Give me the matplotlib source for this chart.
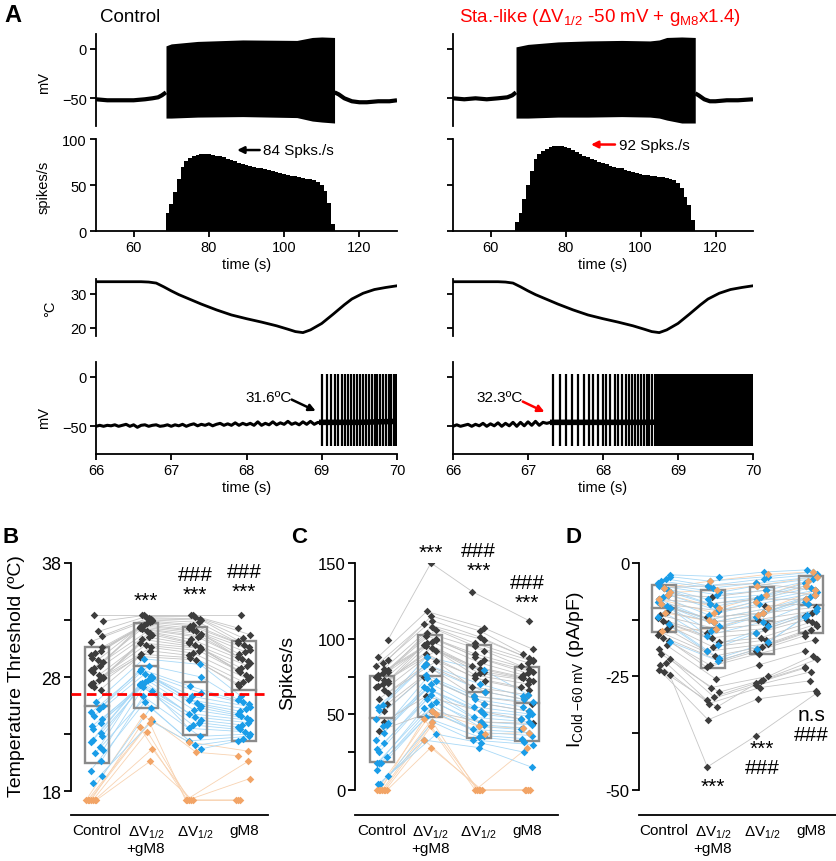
import numpy as np
import matplotlib
matplotlib.use("Agg")
import matplotlib.pyplot as plt
from matplotlib.patches import Rectangle

plt.rcParams["font.family"] = ["Liberation Sans", "DejaVu Sans"]
plt.rcParams["mathtext.fontset"] = "custom"
plt.rcParams["mathtext.rm"] = "Liberation Sans"
plt.rcParams["mathtext.it"] = "Liberation Sans:italic"
plt.rcParams["mathtext.bf"] = "Liberation Sans:bold"
plt.rcParams["axes.linewidth"] = 1.3

# ===========================
# Panel A data
# ===========================
# slow time scale, control
CTRL_PRE_T = [50, 53, 56, 60, 63, 65, 66.5, 67.5, 68.6]
CTRL_PRE_V = [-51, -52, -52, -52, -51, -50, -49, -47, -44]
CTRL_ENV_T = [68.6, 70, 77, 89, 103.4, 107.5, 110, 113.4]
CTRL_ENV_HI = [3, 5, 7.5, 9, 8.5, 11.5, 12, 11.5]
CTRL_ENV_LO = [-70, -70, -69, -68.5, -69.5, -73, -74, -75]
CTRL_POST_T = [113.4, 114.5, 116, 118, 120, 122, 125, 128, 130]
CTRL_POST_V = [-44, -46, -50, -53, -54, -54, -53, -53, -52]

# slow time scale, Sta.-like
STA_PRE_T = [50, 53, 56, 59, 62, 64.5, 65.8, 66.8]
STA_PRE_V = [-50, -51, -50, -51, -50, -49, -47, -44]
STA_ENV_T = [66.8, 70, 78, 86, 95, 102.5, 105, 107, 111, 114.6]
STA_ENV_HI = [2, 4.5, 7, 8, 8.5, 8, 9, 11.5, 12, 11.5]
STA_ENV_LO = [-70, -70, -69, -69, -68.5, -69, -70, -72, -75, -75]
STA_POST_T = [114.6, 115.5, 117, 118.5, 120, 123, 126, 130]
STA_POST_V = [-45, -47, -51, -53, -53, -52, -52, -51]

# firing rate, 1 s bins
CTRL_RATE_T0 = 68.5
CTRL_RATE = [20, 29, 42, 56, 70, 76, 79, 81, 83, 84, 84, 84, 83, 82, 81, 80, 78,
             77, 76, 74, 73, 72, 71, 70, 69, 68, 67, 66, 65, 64, 63, 62, 61, 60,
             60, 59, 58, 57, 56, 55, 53, 50, 43, 30, 8]
STA_RATE_T0 = 66.5
STA_RATE = [10, 20, 35, 50, 65, 78, 84, 87, 89, 91, 92, 92, 92, 91, 90, 88, 86,
            84, 82, 80, 78, 77, 75, 74, 73, 71, 70, 69, 68, 66, 65, 64, 63, 62,
            61, 61, 60, 60, 59, 59, 58, 57, 55, 52, 47, 37, 28, 12]

# bath temperature
TEMP_T = [50, 62, 64, 66, 68, 70, 72, 75, 78, 82, 86, 90, 94, 98, 101, 103,
          105, 107, 110, 113, 116, 118, 121, 124, 127, 130]
TEMP_C = [33.6, 33.6, 33.5, 33.2, 32.1, 30.9, 29.8, 28.4, 27.0, 25.3, 23.8,
          22.7, 21.7, 20.6, 19.6, 18.9, 18.6, 19.4, 21.3, 24.0, 26.8, 28.5,
          30.2, 31.3, 31.9, 32.4]

# fast time scale, control
CTRL_BASE_V = [-50, -49, -50, -49, -49.5, -48.5, -50, -49, -48, -50, -48.5, -51,
               -49, -48.5, -50, -49, -48.5, -50, -49.5, -48.5, -50, -48.5, -49.5,
               -48, -50, -48.5, -47.5, -49.5, -48, -49, -47.5, -49.5, -48, -47,
               -49, -47.5, -49, -46.5, -49, -47, -48.5, -47, -49, -45.5, -49, -47,
               -48.5, -45.5, -48.5, -46.5, -48, -45, -48, -46.5, -48.5, -45.5, -48,
               -45, -48, -46, -47]
CTRL_BASE_RANGE = (66.0, 69.0)
CTRL_SPIKES = [69.00, 69.07, 69.12, 69.17, 69.22, 69.27, 69.31, 69.35, 69.39,
               69.43, 69.47, 69.51, 69.55, 69.59, 69.63, 69.67, 69.71, 69.74,
               69.78, 69.82, 69.85, 69.89, 69.92, 69.96, 69.99]
CTRL_TRAIN_T = [69.0, 69.5, 70.0]
CTRL_TRAIN_V = [-46, -46, -45]

# fast time scale, Sta.-like
STA_BASE_V = [-50, -48.5, -50, -49, -48, -50, -48, -49.5, -47, -50, -47.5, -49.5,
              -46.5, -50, -47, -49.5, -46, -50, -46, -49.5, -45.5, -49, -45, -49,
              -46, -47, -46]
STA_BASE_RANGE = (66.0, 67.3)
STA_SPIKES = [67.33, 67.42, 67.51, 67.58, 67.66, 67.74, 67.81, 67.86, 67.93,
              68.00, 68.04, 68.10, 68.16, 68.20, 68.25, 68.30, 68.34, 68.39,
              68.42, 68.47, 68.50, 68.54, 68.58, 68.61, 68.65]
STA_DENSE_T = [68.68, 70.0]
STA_TRAIN_T = [67.33, 68.5, 70.0]
STA_TRAIN_V = [-46, -46, -45]
SPIKE_PEAK = 3
SPIKE_TROUGH = -70

# ===========================
# Panels B-D data (per cell: Control, dV1/2+gM8, dV1/2, gM8)
# ===========================
CATEGORIES = ["Control", "ΔV$_{1/2}$\n+gM8", "ΔV$_{1/2}$", "gM8"]

B_GRAY = [
    [33.4, 32.9, 32.0, 31.6, 31.1, 30.6, 30.3, 30.1, 29.9, 29.7, 29.5, 29.3, 29.0,
     28.8, 28.6, 28.4, 28.2, 28.0, 27.9, 27.7, 27.5, 27.4, 27.3, 27.1, 26.9],
    [33.4, 33.4, 33.3, 33.2, 33.1, 33.0, 32.9, 32.8, 32.7, 32.6, 32.5, 32.4, 32.3,
     32.2, 32.0, 31.9, 31.7, 31.5, 31.3, 31.0, 30.8, 30.6, 30.3, 30.0, 29.8],
    [33.4, 33.4, 33.3, 33.1, 33.0, 32.8, 32.6, 32.5, 32.3, 32.1, 32.0, 31.8, 31.6,
     31.5, 31.3, 31.1, 31.0, 30.8, 30.6, 30.5, 30.3, 30.1, 29.9, 29.7, 29.5],
    [33.4, 32.3, 31.7, 31.4, 31.2, 31.0, 30.8, 30.6, 30.4, 30.2, 30.0, 29.8, 29.6,
     29.4, 29.2, 29.0, 28.8, 28.6, 28.4, 28.2, 28.0, 27.8, 27.6, 27.4, 27.2],
]
B_BLUE = [
    [25.8, 25.5, 25.2, 24.9, 24.6, 24.3, 24.0, 23.7, 23.4, 23.1, 22.8, 22.5, 22.3,
     21.9, 21.6, 21.3, 20.6, 19.8, 19.3, 18.7],
    [29.6, 29.0, 28.7, 28.5, 28.3, 28.1, 28.0, 27.9, 27.8, 27.7, 27.6, 27.5, 27.4,
     27.3, 27.1, 26.8, 26.3, 25.8, 25.3, 24.1],
    [29.1, 28.0, 27.2, 26.6, 26.3, 26.0, 25.7, 25.5, 25.3, 25.1, 24.8, 24.5, 24.2,
     24.0, 23.8, 23.5, 22.8, 22.4, 22.0, 21.7],
    [26.3, 26.0, 25.8, 25.6, 25.4, 25.2, 25.0, 24.8, 24.6, 24.4, 24.2, 24.0, 23.8,
     23.6, 23.4, 23.2, 23.0, 22.8, 22.6, 22.4],
]
B_ORANGE = [
    [17.2, 17.2, 17.2, 17.2, 17.2, 17.2, 17.2],
    [24.6, 24.3, 24.0, 23.6, 23.2, 21.7, 20.6],
    [22.3, 21.4, 17.2, 17.2, 17.2, 17.2, 17.2],
    [21.5, 21.1, 20.6, 19.1, 17.2, 17.2, 17.2],
]
B_BOX_LO = [20.5, 25.3, 22.9, 22.4]
B_BOX_HI = [30.6, 32.7, 32.4, 31.2]
B_MEDIAN = [25.5, 29.0, 27.6, 26.9]
B_THRESHOLD = 26.5

C_GRAY = [
    [99, 88, 86, 84, 82, 80, 79, 78, 77, 76, 75, 74, 73, 72, 71, 70, 69, 68, 66,
     64, 60, 57, 52, 45, 39],
    [150, 118, 115, 112, 110, 108, 106, 104, 102, 100, 99, 98, 97, 96, 95, 94, 92,
     90, 88, 85, 83, 80, 75, 62, 52],
    [131, 107, 105, 101, 99, 97, 95, 92, 90, 88, 86, 84, 82, 80, 78, 77, 76, 74,
     72, 68, 65, 62, 57, 52, 45],
    [112, 93, 90, 87, 86, 85, 84, 82, 80, 78, 77, 76, 75, 74, 73, 72, 70, 68, 66,
     63, 60, 57, 52, 47, 44],
]
C_BLUE = [
    [56, 55, 53, 47, 44, 43, 42, 38, 33, 31, 27, 25, 22, 18, 18, 18, 13, 9, 4, 4],
    [88, 83, 82, 76, 74, 72, 70, 68, 67, 66, 63, 60, 58, 56, 54, 52, 48, 45, 37, 33],
    [79, 70, 65, 62, 60, 57, 55, 52, 50, 48, 45, 43, 42, 40, 38, 36, 35, 33, 31, 28],
    [63, 62, 60, 58, 55, 52, 50, 49, 47, 45, 43, 41, 40, 38, 36, 34, 32, 30, 25, 15],
]
C_ORANGE = [
    [0, 0, 0, 0, 0, 0, 0],
    [52, 50, 47, 45, 42, 33, 28],
    [42, 37, 0, 0, 0, 0, 0],
    [41, 38, 28, 0, 0, 0, 0],
]
C_BOX_LO = [18.5, 48.5, 34.5, 32.5]
C_BOX_HI = [75.5, 102.5, 95.5, 81.5]
C_MEDIAN = [47.5, 75.5, 65.0, 57.5]

D_GRAY = [
    [-5.5, -7.0, -8.0, -9.0, -10.0, -10.8, -11.5, -12.2, -12.8, -13.3, -14.0, -14.5,
     -15.2, -15.8, -16.5, -17.2, -18.2, -19.0, -20.0, -21.2, -22.0, -22.6, -23.5,
     -24.0, -24.7],
    [-5.0, -7.5, -9.0, -10.5, -12.0, -13.0, -14.5, -15.5, -16.5, -17.5, -18.5, -19.5,
     -20.5, -21.5, -22.5, -23.0, -25.6, -27.5, -28.5, -29.5, -30.3, -31.0, -34.6,
     -31.8, -45.0],
    [-4.5, -6.0, -8.0, -9.5, -11.0, -12.5, -13.5, -14.5, -15.5, -16.5, -17.0, -17.8,
     -18.5, -19.0, -19.5, -20.0, -22.5, -25.0, -25.8, -26.5, -27.0, -27.5, -30.0,
     -26.0, -38.1],
    [-6.0, -7.0, -8.0, -9.0, -9.8, -10.5, -11.0, -11.8, -12.5, -13.0, -13.5, -14.0,
     -14.8, -15.5, -16.0, -17.0, -19.5, -20.5, -21.2, -23.2, -24.0, -26.0, -28.2,
     -23.0, -28.6],
]
D_BLUE = [
    [-2.6, -3.0, -3.5, -4.0, -4.5, -5.0, -5.5, -6.0, -6.5, -7.0, -7.5, -8.0, -8.5,
     -9.0, -9.5, -10.0, -11.0, -12.0, -13.5, -17.4],
    [-3.0, -4.0, -5.0, -5.5, -6.5, -7.0, -8.0, -9.0, -9.5, -10.5, -11.5, -12.5,
     -13.0, -14.0, -15.0, -16.0, -18.0, -19.5, -21.0, -21.6],
    [-2.0, -3.0, -3.5, -4.5, -5.0, -6.0, -7.0, -7.5, -8.0, -8.5, -9.0, -10.0, -11.0,
     -11.5, -12.0, -13.0, -14.0, -15.5, -17.5, -19.0],
    [-1.5, -2.0, -2.5, -3.0, -3.5, -4.0, -4.5, -5.0, -5.5, -6.0, -6.5, -7.0, -7.5,
     -8.0, -8.5, -9.0, -10.0, -10.5, -11.5, -12.0],
]
D_ORANGE = [
    [-5.5, -6.5, -7.0, -8.0, -9.0, -11.0, -15.0],
    [-4.0, -6.0, -10.0, -11.0, -12.5, -13.0, -14.5],
    [-2.5, -5.0, -7.0, -8.5, -10.0, -11.0, -11.5],
    [-2.0, -3.0, -4.0, -5.0, -6.0, -7.0, -8.0],
]
D_BOX_LO = [-15.2, -23.1, -20.0, -15.4]
D_BOX_HI = [-4.8, -5.9, -5.3, -2.9]
D_MEDIAN = [-9.9, -14.3, -12.8, -9.3]

# significance marks: category, value at the centre of the block, text
B_MARKS = [(1, 35.3, "***"), (2, 36.1, "###\n***"), (3, 36.4, "###\n***")]
C_MARKS = [(1, 161, "***"), (2, 151.5, "###\n***"), (3, 130.6, "###\n***")]
D_MARKS = [(1, -48.0, "***"), (2, -43.0, "***\n###"), (3, -35.6, "n.s\n###")]

DOT_COLORS = {"gray": "#3d3d3d", "blue": "#1a9de8", "orange": "#f2a466"}
LINK_COLORS = {"gray": "#c6c6c6", "blue": "#a9d9f7", "orange": "#f8d3b2"}
BOX_COLOR = "#8a8a8a"

# ===========================
# Layout helpers
# ===========================
W, H = 837.0, 862.0
fig = plt.figure(figsize=(W / 100, H / 100), dpi=100)


def add_axes_px(x0, y0, x1, y1):
    return fig.add_axes([x0 / W, 1 - y1 / H, (x1 - x0) / W, (y1 - y0) / H])


def trace_axes(xr, yr, show_x, show_labels):
    ax = add_axes_px(xr[0], yr[0], xr[1], yr[1])
    ax.spines[["top", "right"]].set_visible(False)
    ax.tick_params(direction="out", length=4.5, width=1.3, labelsize=10.5, pad=2)
    if not show_x:
        ax.spines["bottom"].set_visible(False)
        ax.tick_params(axis="x", bottom=False, labelbottom=False)
    if not show_labels:
        ax.tick_params(axis="y", labelleft=False)
    return ax


def jitter(vals, freq, amp=0.13, step=0.035):
    v = np.asarray(vals, float)
    off = amp * np.sin(v * freq)
    for u in np.unique(v):
        idx = np.flatnonzero(v == u)
        if len(idx) > 1:
            off[idx] = off[idx] + (np.arange(len(idx)) - (len(idx) - 1) / 2) * step
    return off


def dot_panel(ax, groups, box_lo, box_hi, median, freq):
    xs = np.arange(4)
    placed = {}
    for name, data in groups:
        vals = np.array(data, float)
        offs = np.array([jitter(vals[c], freq) for c in range(4)])
        placed[name] = (xs[:, None] + offs, vals)
    for name in ["orange", "blue", "gray"]:
        X, Y = placed[name]
        ax.plot(X, Y, color=LINK_COLORS[name], lw=0.6, zorder=1)
    for c in range(4):
        ax.add_patch(Rectangle((c - 0.25, box_lo[c]), 0.5, box_hi[c] - box_lo[c],
                               fill=False, ec=BOX_COLOR, lw=1.7, zorder=2))
        ax.plot([c - 0.25, c + 0.25], [median[c]] * 2, color=BOX_COLOR, lw=1.7, zorder=2)
    for name in ["gray", "blue", "orange"]:
        X, Y = placed[name]
        ax.scatter(X.ravel(), Y.ravel(), marker="D", s=15, color=DOT_COLORS[name],
                   lw=0, zorder=3)


def style_dot_axes(ax, xlim, ylim, bounds, ticks, labels, fs):
    ax.set_xlim(*xlim)
    ax.set_ylim(*ylim)
    ax.spines[["top", "right"]].set_visible(False)
    ax.spines["left"].set_bounds(*bounds)
    ax.set_yticks(ticks)
    ax.set_yticklabels(labels)
    ax.tick_params(axis="y", direction="out", length=5, width=1.3, labelsize=fs, pad=2)
    ax.set_xticks(range(4))
    ax.set_xticklabels(CATEGORIES, fontsize=11, linespacing=1.1)
    ax.tick_params(axis="x", length=0, pad=6)


def marks(ax, items):
    for x, y, s in items:
        dy = -4.5 if s == "***" else 0
        ax.annotate(s, (x, y), xytext=(0, dy), textcoords="offset points",
                    ha="center", va="center", fontsize=15, linespacing=1.05,
                    annotation_clip=False)


# ===========================
# Panel A
# ===========================
LEFT_X = (96, 397)
RIGHT_X = (453, 753)
ROW_MV = (35, 127)
ROW_RATE = (140, 232)
ROW_TEMP = (280, 337)
ROW_FAST = (363, 455)

cols = [
    (LEFT_X, True, CTRL_PRE_T, CTRL_PRE_V, CTRL_ENV_T, CTRL_ENV_HI, CTRL_ENV_LO,
     CTRL_POST_T, CTRL_POST_V, CTRL_RATE_T0, CTRL_RATE),
    (RIGHT_X, False, STA_PRE_T, STA_PRE_V, STA_ENV_T, STA_ENV_HI, STA_ENV_LO,
     STA_POST_T, STA_POST_V, STA_RATE_T0, STA_RATE),
]
rate_axes = []
for xr, lab, pre_t, pre_v, env_t, env_hi, env_lo, post_t, post_v, r0, rate in cols:
    ax = trace_axes(xr, ROW_MV, False, lab)
    ax.plot(pre_t, pre_v, color="k", lw=3, solid_capstyle="butt")
    ax.plot(post_t, post_v, color="k", lw=3, solid_capstyle="butt")
    ax.fill_between(env_t, env_lo, env_hi, color="k", lw=0)
    ax.set_xlim(50, 130)
    ax.set_ylim(-78, 15)
    ax.set_yticks([-50, 0])
    if lab:
        ax.set_ylabel("mV", fontsize=10.5)
        ax.yaxis.set_label_coords(-0.15, 0.48)

    ax = trace_axes(xr, ROW_RATE, True, lab)
    edges = r0 + np.arange(len(rate) + 1)
    ax.stairs(rate, edges, fill=True, color="k")
    ax.set_xlim(50, 130)
    ax.set_ylim(0, 100)
    ax.set_yticks([0, 50, 100])
    ax.set_xticks([60, 80, 100, 120])
    ax.set_xlabel("time (s)", fontsize=10.5, labelpad=2)
    if lab:
        ax.set_ylabel("spikes/s", fontsize=10.5)
        ax.yaxis.set_label_coords(-0.15, 0.49)
    rate_axes.append(ax)

    ax = trace_axes(xr, ROW_TEMP, False, lab)
    ax.plot(TEMP_T, TEMP_C, color="k", lw=2)
    ax.set_xlim(50, 130)
    ax.set_ylim(17.6, 34.4)
    ax.set_yticks([20, 30])
    if lab:
        ax.set_ylabel("°C", fontsize=10.5)
        ax.yaxis.set_label_coords(-0.13, 0.5)

# peak-rate callouts
rate_axes[0].annotate("", xy=(87.5, 88), xytext=(93.5, 88),
                      arrowprops=dict(arrowstyle="-|>", color="k", lw=1.8,
                                      mutation_scale=10, shrinkA=0, shrinkB=0))
rate_axes[0].text(94.5, 88, "84 Spks./s", va="center", fontsize=11)
rate_axes[1].annotate("", xy=(86.8, 94), xytext=(93.2, 94),
                      arrowprops=dict(arrowstyle="-|>", color="red", lw=1.8,
                                      mutation_scale=10, shrinkA=0, shrinkB=0))
rate_axes[1].text(94.2, 94, "92 Spks./s", va="center", fontsize=11)

# fast traces
ax = trace_axes(LEFT_X, ROW_FAST, True, True)
ax.plot(np.linspace(*CTRL_BASE_RANGE, len(CTRL_BASE_V)), CTRL_BASE_V, color="k", lw=2.2)
ax.plot(CTRL_TRAIN_T, CTRL_TRAIN_V, color="k", lw=4)
ax.vlines(CTRL_SPIKES, SPIKE_TROUGH, SPIKE_PEAK, color="k", lw=1.6)
ax.set_xlim(66, 70)
ax.set_ylim(-78, 15)
ax.set_yticks([-50, 0])
ax.set_xticks([66, 67, 68, 69, 70])
ax.set_xlabel("time (s)", fontsize=10.5, labelpad=2)
ax.set_ylabel("mV", fontsize=10.5)
ax.yaxis.set_label_coords(-0.15, 0.40)
ax.annotate("", xy=(68.92, -34.5), xytext=(68.6, -23),
            arrowprops=dict(arrowstyle="-|>", color="k", lw=1.8, mutation_scale=10,
                            shrinkA=0, shrinkB=0))
ax.text(68.6, -20, "31.6ºC", ha="right", va="center", fontsize=11)

ax = trace_axes(RIGHT_X, ROW_FAST, True, False)
ax.plot(np.linspace(*STA_BASE_RANGE, len(STA_BASE_V)), STA_BASE_V, color="k", lw=2.2)
ax.plot(STA_TRAIN_T, STA_TRAIN_V, color="k", lw=4)
ax.vlines(STA_SPIKES, SPIKE_TROUGH, SPIKE_PEAK, color="k", lw=1.6)
ax.fill_between(STA_DENSE_T, SPIKE_TROUGH, SPIKE_PEAK, color="k", lw=0)
ax.set_xlim(66, 70)
ax.set_ylim(-78, 15)
ax.set_yticks([-50, 0])
ax.set_xticks([66, 67, 68, 69, 70])
ax.set_xlabel("time (s)", fontsize=10.5, labelpad=2)
ax.annotate("", xy=(67.22, -35.5), xytext=(66.93, -25),
            arrowprops=dict(arrowstyle="-|>", color="red", lw=1.8, mutation_scale=10,
                            shrinkA=0, shrinkB=0))
ax.text(66.93, -20, "32.3ºC", ha="right", va="center", fontsize=11)

fig.text(100 / W, 1 - 17 / H, "Control", fontsize=13.5, va="center")
fig.text(459 / W, 1 - 17 / H,
         "Sta.-like (ΔV$_{1/2}$ -50 mV + g$_{\\mathrm{M8}}$x1.4)",
         fontsize=13.5, va="center", color="red")

# ===========================
# Panels B, C, D
# ===========================
ROW_DOT = (564, 816)

ax = add_axes_px(71, ROW_DOT[0], 268, ROW_DOT[1])
dot_panel(ax, [("gray", B_GRAY), ("blue", B_BLUE), ("orange", B_ORANGE)],
          B_BOX_LO, B_BOX_HI, B_MEDIAN, 5.0)
ax.axhline(B_THRESHOLD, color="red", lw=2, ls=(0, (3.5, 2)), zorder=4)
style_dot_axes(ax, (-0.53, 3.49), (15.9, 38), (18, 38), [18, 23, 28, 33, 38],
               ["18", "", "28", "", "38"], 13)
ax.set_ylabel("Temperature Threshold (ºC)", fontsize=14)
ax.yaxis.set_label_coords(-0.235, 0.555)
marks(ax, B_MARKS)

ax = add_axes_px(355, ROW_DOT[0], 558, ROW_DOT[1])
dot_panel(ax, [("gray", C_GRAY), ("blue", C_BLUE), ("orange", C_ORANGE)],
          C_BOX_LO, C_BOX_HI, C_MEDIAN, 0.9)
style_dot_axes(ax, (-0.56, 3.64), (-16.5, 150), (0, 150),
               [0, 25, 50, 75, 100, 125, 150], ["0", "", "50", "", "100", "", "150"], 12)
ax.set_ylabel("Spikes/s", fontsize=14)
ax.yaxis.set_label_coords(-0.29, 0.567)
marks(ax, C_MARKS)

ax = add_axes_px(639, ROW_DOT[0], 836, ROW_DOT[1])
dot_panel(ax, [("gray", D_GRAY), ("blue", D_BLUE), ("orange", D_ORANGE)],
          D_BOX_LO, D_BOX_HI, D_MEDIAN, 1.7)
style_dot_axes(ax, (-0.51, 3.51), (-55.6, 0), (-50, 0),
               [-50, -37.5, -25, -12.5, 0], ["-50", "", "-25", "", "0"], 12)
ax.set_ylabel("I$_{\\mathrm{Cold\\ {-}60\\ mV}}$ (pA/pF)", fontsize=14)
ax.yaxis.set_label_coords(-0.27, 0.58)
marks(ax, D_MARKS)

for x, y, s, fs in [(4, 4, "A", 17), (3, 527, "B", 16), (291, 527, "C", 16), (566, 527, "D", 16)]:
    fig.text(x / W, 1 - y / H, s, fontsize=fs, fontweight="bold", va="top")

fig.savefig("out.png", dpi=100)
